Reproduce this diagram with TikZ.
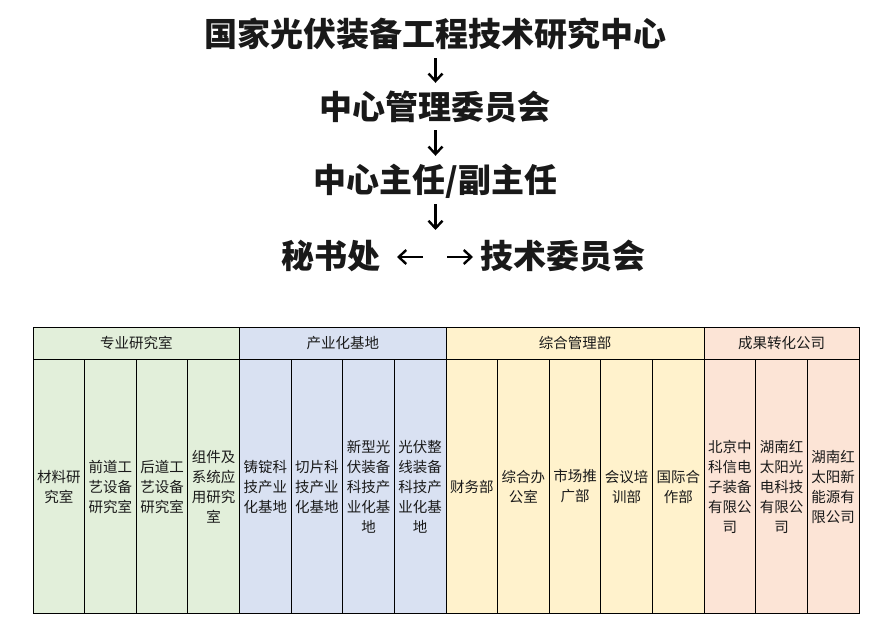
\documentclass[tikz,border=0pt]{standalone}
\usepackage{fontspec}
\newfontfamily\cjk{Noto Sans CJK SC}
\usetikzlibrary{arrows.meta}
\definecolor{cgreen}{HTML}{E2EFDA}
\definecolor{cblue}{HTML}{D9E1F2}
\definecolor{cyellow}{HTML}{FFF2CC}
\definecolor{cpink}{HTML}{FCE4D6}
\definecolor{ctext}{HTML}{1A1A1A}
\tikzset{
  big/.style={font=\cjk\bfseries\fontsize{33bp}{33bp}\selectfont, inner sep=0pt, text=black!90, text height=27bp, text depth=6bp},
  arr/.style={line width=2.4bp, -{Straight Barb[length=7.5bp,width=14bp,line width=2.4bp]}},
  cell/.style={font=\cjk\fontsize{14.5bp}{20bp}\selectfont, align=center, inner sep=0pt, text=ctext},
  head/.style={font=\cjk\fontsize{14.5bp}{20bp}\selectfont, inner sep=0pt, text=ctext},
  grid/.style={line width=1bp, draw=black},
}
\begin{document}
\begin{tikzpicture}[x=1bp,y=-1bp]
\useasboundingbox (0,0) rectangle (893,629);
\fill[white] (0,0) rectangle (893,629);
% top hierarchy
\node[big] (title) at (435,36) {国家光伏装备工程技术研究中心};
\node[big] (mgmt) at (435,109) {中心管理委员会};
\node[big] (dir) at (435.5,182) {中心主任/副主任};
\node[big,anchor=east] (sec) at (381,258) {秘书处};
\node[big,anchor=west] (tech) at (480,258) {技术委员会};
\coordinate (fork) at (435.5,230);
\coordinate (forkL) at (423,257);
\coordinate (forkR) at (447,257);
\draw[arr, shorten <=5.5bp, shorten >=9.5bp] (title.south -| fork) -- (mgmt.north -| fork);
\draw[arr, shorten <=4.5bp, shorten >=9.5bp] (mgmt.south -| fork) -- (dir.north -| fork);
\draw[arr, shorten <=5.5bp] (dir.south -| fork) -- (fork);
\draw[arr, shorten >=16bp] (forkL) -- (sec.east |- forkL);
\draw[arr, shorten >=7bp] (forkR) -- (tech.west |- forkR);
% table fills
\fill[cgreen] (33,327) rectangle (239.5,613);
\fill[cblue] (239.5,327) rectangle (446,613);
\fill[cyellow] (446,327) rectangle (704.125,613);
\fill[cpink] (704.125,327) rectangle (859,613);
% headers
\node[head] (h1) at (136.25,343) {专业研究室};
\node[head] (h2) at (342.75,343) {产业化基地};
\node[head] (h3) at (575.06,343) {综合管理部};
\node[head] (h4) at (781.56,343) {成果转化公司};
% cells
\foreach \t [count=\i from 0] in {
  {材料研\\究室},{前道工\\艺设备\\研究室},{后道工\\艺设备\\研究室},{组件及\\系统应\\用研究\\室},
  {铸锭科\\技产业\\化基地},{切片科\\技产业\\化基地},{新型光\\伏装备\\科技产\\业化基\\地},{光伏整\\线装备\\科技产\\业化基\\地},
  {财务部},{综合办\\公室},{市场推\\广部},{会议培\\训部},{国际合\\作部},
  {北京中\\科信电\\子装备\\有限公\\司},{湖南红\\太阳光\\电科技\\有限公\\司},{湖南红\\太阳新\\能源有\\限公司}}
{
  \node[cell] (c\i) at ({33+51.625*(\i+0.5)},486.5) {\t};
}
% grid lines
\draw[grid] (33,327) rectangle (859,613);
\draw[grid] (33,359) -- (859,359);
\foreach \k in {4,8,13} { \draw[grid] ({33+51.625*\k},327) -- ({33+51.625*\k},613); }
\foreach \k in {1,2,3,5,6,7,9,10,11,12,14,15} { \draw[grid] ({33+51.625*\k},359) -- ({33+51.625*\k},613); }
\end{tikzpicture}
\end{document}
